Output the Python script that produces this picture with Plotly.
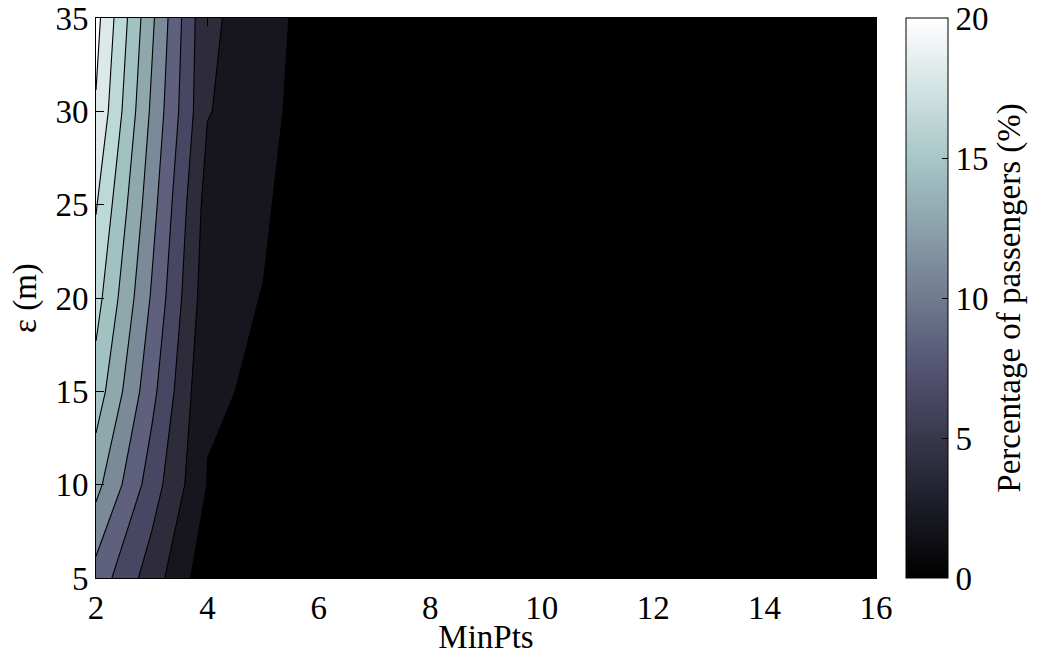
import numpy as np
import plotly.graph_objects as go

# Grid of DBSCAN parameters
min_pts = list(range(2, 17))
eps_m = [5, 10, 15, 20, 25, 30, 35]

# Percentage of passengers for each eps row (columns follow min_pts)
pct_eps5 = [9.2, 5.0, 0.7, 0.3, 0.1, 0.05, 0, 0, 0, 0, 0, 0, 0, 0, 0]
pct_eps10 = [12.63, 7.0, 1.95, 1.0, 0.2, 0.1, 0.05, 0, 0, 0, 0, 0, 0, 0, 0]
pct_eps15 = [15.1, 8.6, 2.13, 1.87, 0.4, 0.1, 0.05, 0, 0, 0, 0, 0, 0, 0, 0]
pct_eps20 = [16.77, 9.78, 2.74, 1.94, 0.5, 0.15, 0.05, 0, 0, 0, 0, 0, 0, 0, 0]
pct_eps25 = [18.15, 10.75, 3.16, 2.33, 0.3, 0.15, 0.05, 0, 0, 0, 0, 0, 0, 0, 0]
pct_eps30 = [19.8, 11.65, 4.1, 2.94, 0.3, 0.15, 0.05, 0, 0, 0, 0, 0, 0, 0, 0]
pct_eps35 = [20.67, 12.4, 4.2, 3.45, 0.3, 0.15, 0.05, 0, 0, 0, 0, 0, 0, 0, 0]

x_ticks = [2, 4, 6, 8, 10, 12, 14, 16]
y_ticks = [5, 10, 15, 20, 25, 30, 35]
cbar_ticks = [0, 5, 10, 15, 20]

z = [pct_eps5, pct_eps10, pct_eps15, pct_eps20, pct_eps25, pct_eps30, pct_eps35]


def bone(t):
    """MATLAB-style 'bone' colormap value at t in [0, 1]."""
    hot_r = min(1.0, t / 0.375)
    hot_g = min(1.0, max(0.0, (t - 0.375) / 0.375))
    hot_b = min(1.0, max(0.0, (t - 0.75) / 0.25))
    r = (7 * t + hot_b) / 8
    g = (7 * t + hot_g) / 8
    b = (7 * t + hot_r) / 8
    return "rgb(%d,%d,%d)" % (round(r * 255), round(g * 255), round(b * 255))


# Fill colours of the contour bands (band above level 2k -> stop k/10)
band_colors = ["#000000", "#17161e", "#2e2c3a", "#474763", "#5f5f7e",
               "#7a8a99", "#8ea8ac", "#a2c2c2", "#bcd9d8", "#dce9e8", "#ffffff"]
band_scale = [[i / 10, c] for i, c in enumerate(band_colors)]

# Continuous bone scale for the colour bar
bone_scale = [[i / 63, bone(i / 63)] for i in range(64)]

font_family = "Liberation Serif"
font_size = 33

fig = go.Figure()

fig.add_trace(go.Contour(
    x=min_pts,
    y=eps_m,
    z=z,
    autocontour=False,
    contours=dict(start=2, end=20, size=2, coloring="fill", showlines=True),
    line=dict(color="black", width=1.1, smoothing=0),
    colorscale=band_scale,
    showscale=False,
    hoverinfo="skip",
))

# Invisible marker trace that carries the continuous colour bar
fig.add_trace(go.Scatter(
    x=[min_pts[-1]],
    y=[eps_m[-1]],
    mode="markers",
    marker=dict(
        size=0.1,
        opacity=0,
        color=[0],
        cmin=0,
        cmax=20,
        colorscale=bone_scale,
        showscale=True,
        colorbar=dict(
            x=1.0385,
            xanchor="left",
            y=0.5,
            yanchor="middle",
            len=1,
            lenmode="fraction",
            thickness=42,
            thicknessmode="pixels",
            xpad=0,
            ypad=0,
            outlinecolor="black",
            outlinewidth=1,
            tickvals=cbar_ticks,
            ticks="inside",
            ticklen=6,
            tickcolor="black",
            tickfont=dict(family=font_family, size=font_size, color="black"),
            title=dict(text="Percentage of passengers (%)", side="right",
                       font=dict(family=font_family, size=font_size, color="black")),
        ),
    ),
    hoverinfo="skip",
    showlegend=False,
))

axis_common = dict(
    showline=True,
    linecolor="black",
    linewidth=1,
    mirror="allticks",
    ticks="inside",
    ticklen=8,
    tickcolor="black",
    showgrid=False,
    zeroline=False,
    automargin=False,
    tickfont=dict(family=font_family, size=font_size, color="black"),
)

fig.update_xaxes(
    range=[2, 16],
    tickvals=x_ticks,
    title=dict(text="MinPts", font=dict(family=font_family, size=font_size, color="black"),
               standoff=2),
    **axis_common,
)
fig.update_yaxes(
    range=[5, 35],
    tickvals=y_ticks,
    title=dict(text="ε (m)", font=dict(family=font_family, size=font_size, color="black"),
               standoff=8),
    **axis_common,
)

fig.update_layout(
    width=1037,
    height=655,
    margin=dict(l=96, r=161, t=18, b=77, autoexpand=False),
    paper_bgcolor="white",
    plot_bgcolor="black",
    showlegend=False,
)

fig.write_html("out.html")
